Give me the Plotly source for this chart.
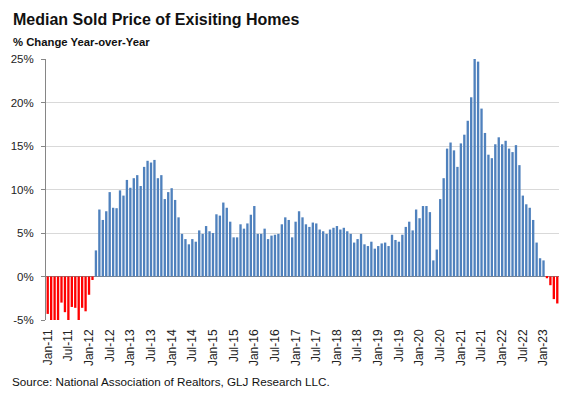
import plotly.graph_objects as go

months = ["Jan", "Feb", "Mar", "Apr", "May", "Jun", "Jul", "Aug", "Sep", "Oct", "Nov", "Dec"]
years = list(range(11, 24))

yoy_2011 = [-4.3, -5.4, -5.4, -5.2, -3.0, -4.1, -5.4, -3.5, -3.6, -5.4, -3.6, -4.0]
yoy_2012 = [-2.1, -0.4, 3.0, 7.7, 6.5, 7.5, 9.7, 7.9, 7.85, 9.9, 9.3, 11.1]
yoy_2013 = [10.2, 11.3, 11.65, 10.4, 12.6, 13.3, 13.1, 13.4, 11.3, 11.65, 8.9, 9.7]
yoy_2014 = [10.15, 8.8, 6.8, 4.9, 4.3, 3.7, 4.3, 4.0, 5.3, 4.9, 5.8, 5.2]
yoy_2015 = [5.0, 7.15, 7.0, 8.5, 7.9, 6.3, 4.5, 4.5, 6.0, 5.5, 6.1, 7.1]
yoy_2016 = [8.1, 4.9, 4.9, 5.5, 4.3, 4.7, 4.8, 4.9, 6.0, 6.8, 6.5, 4.5]
yoy_2017 = [6.3, 7.5, 6.8, 6.0, 5.7, 6.2, 6.1, 5.4, 5.2, 4.9, 5.4, 5.6]
yoy_2018 = [5.8, 5.4, 5.6, 5.2, 4.9, 3.9, 4.3, 4.9, 3.7, 3.5, 4.0, 3.2]
yoy_2019 = [3.5, 3.8, 3.9, 3.5, 4.8, 4.2, 4.0, 4.8, 5.7, 6.3, 5.3, 7.7]
yoy_2020 = [6.7, 8.1, 8.1, 7.4, 1.85, 3.1, 8.9, 11.3, 14.7, 15.4, 14.5, 12.6]
yoy_2021 = [15.3, 16.3, 17.9, 20.6, 25.0, 24.7, 19.3, 16.5, 14.0, 13.6, 15.2, 16.0]
yoy_2022 = [15.2, 15.6, 14.7, 14.3, 15.1, 12.8, 9.3, 8.3, 7.9, 6.5, 3.9, 2.1]
yoy_2023 = [1.85, -0.2, -1.0, -2.6, -3.1]

values = (yoy_2011 + yoy_2012 + yoy_2013 + yoy_2014 + yoy_2015 + yoy_2016 + yoy_2017
          + yoy_2018 + yoy_2019 + yoy_2020 + yoy_2021 + yoy_2022 + yoy_2023)
categories = [f"{m}-{y:02d}" for y in years for m in months][:len(values)]
x_ticks = [c for c in categories if c.startswith("Jan") or c.startswith("Jul")]

y_tickvals = [-5, 0, 5, 10, 15, 20, 25]
y_ticktext = ["-5%", "0%", "5%", "10%", "15%", "20%", "25%"]

BLUE = "#4F81BD"
RED = "#FF0000"
colors = [RED if v < 0 else BLUE for v in values]

# page body has an 8px default margin; lay out in absolute window pixels
OFF = 8
WIN_W, WIN_H = 572, 393
W, H = WIN_W - OFF, WIN_H - OFF
PLOT_L, PLOT_R, PLOT_T, PLOT_B = 46, 559, 59, 320
L, R, T = PLOT_L - OFF, (OFF + W) - PLOT_R, PLOT_T - OFF
PW, PH = PLOT_R - PLOT_L, PLOT_B - PLOT_T
B = H - T - PH

fig = go.Figure(go.Bar(x=categories, y=values, marker_color=colors,
                       marker_line_width=0))

font_main = "Liberation Sans, Arial, sans-serif"

def px_x(xp):
    return (xp - PLOT_L) / PW

def px_y(yp):
    return (PLOT_B - yp) / PH

fig.update_layout(
    width=W, height=H,
    margin=dict(l=L, r=R, t=T, b=B, autoexpand=False),
    paper_bgcolor="white", plot_bgcolor="white",
    bargap=0.32,
    showlegend=False,
    font=dict(family=font_main, size=11, color="#222222"),
    xaxis=dict(type="category", range=[-0.5, len(values) - 0.5],
               tickmode="array", tickvals=x_ticks, ticktext=x_ticks,
               tickangle=-90, showgrid=False, showline=False, ticks="",
               ticklabelstandoff=6,
               tickfont=dict(size=12, color="#222222")),
    yaxis=dict(range=[-5, 25], tickmode="array", tickvals=y_tickvals,
               ticktext=y_ticktext, showgrid=True, gridcolor="#D9D9D9",
               gridwidth=1, zeroline=True, zerolinecolor="#868686",
               zerolinewidth=1, showline=True, linecolor="#868686",
               linewidth=1, ticks="outside", ticklen=4, tickcolor="#868686",
               ticklabelstandoff=5,
               tickfont=dict(size=11.5, color="#222222")),
    annotations=[
        dict(text="<b>Median Sold Price of Exisiting Homes</b>", xref="paper", yref="paper",
             x=px_x(11), y=px_y(19.5), xanchor="left", yanchor="middle",
             showarrow=False, font=dict(family=font_main, size=16, color="#111111")),
        dict(text="<b>% Change Year-over-Year</b>", xref="paper", yref="paper",
             x=px_x(11), y=px_y(41.5), xanchor="left", yanchor="middle",
             showarrow=False, font=dict(family=font_main, size=11.3, color="#111111")),
        dict(text="Source: National Association of Realtors, GLJ Research LLC.",
             xref="paper", yref="paper",
             x=px_x(10), y=px_y(381), xanchor="left", yanchor="middle",
             showarrow=False, font=dict(family=font_main, size=11.7, color="#111111")),
    ],
)

fig.write_html("out.html")
